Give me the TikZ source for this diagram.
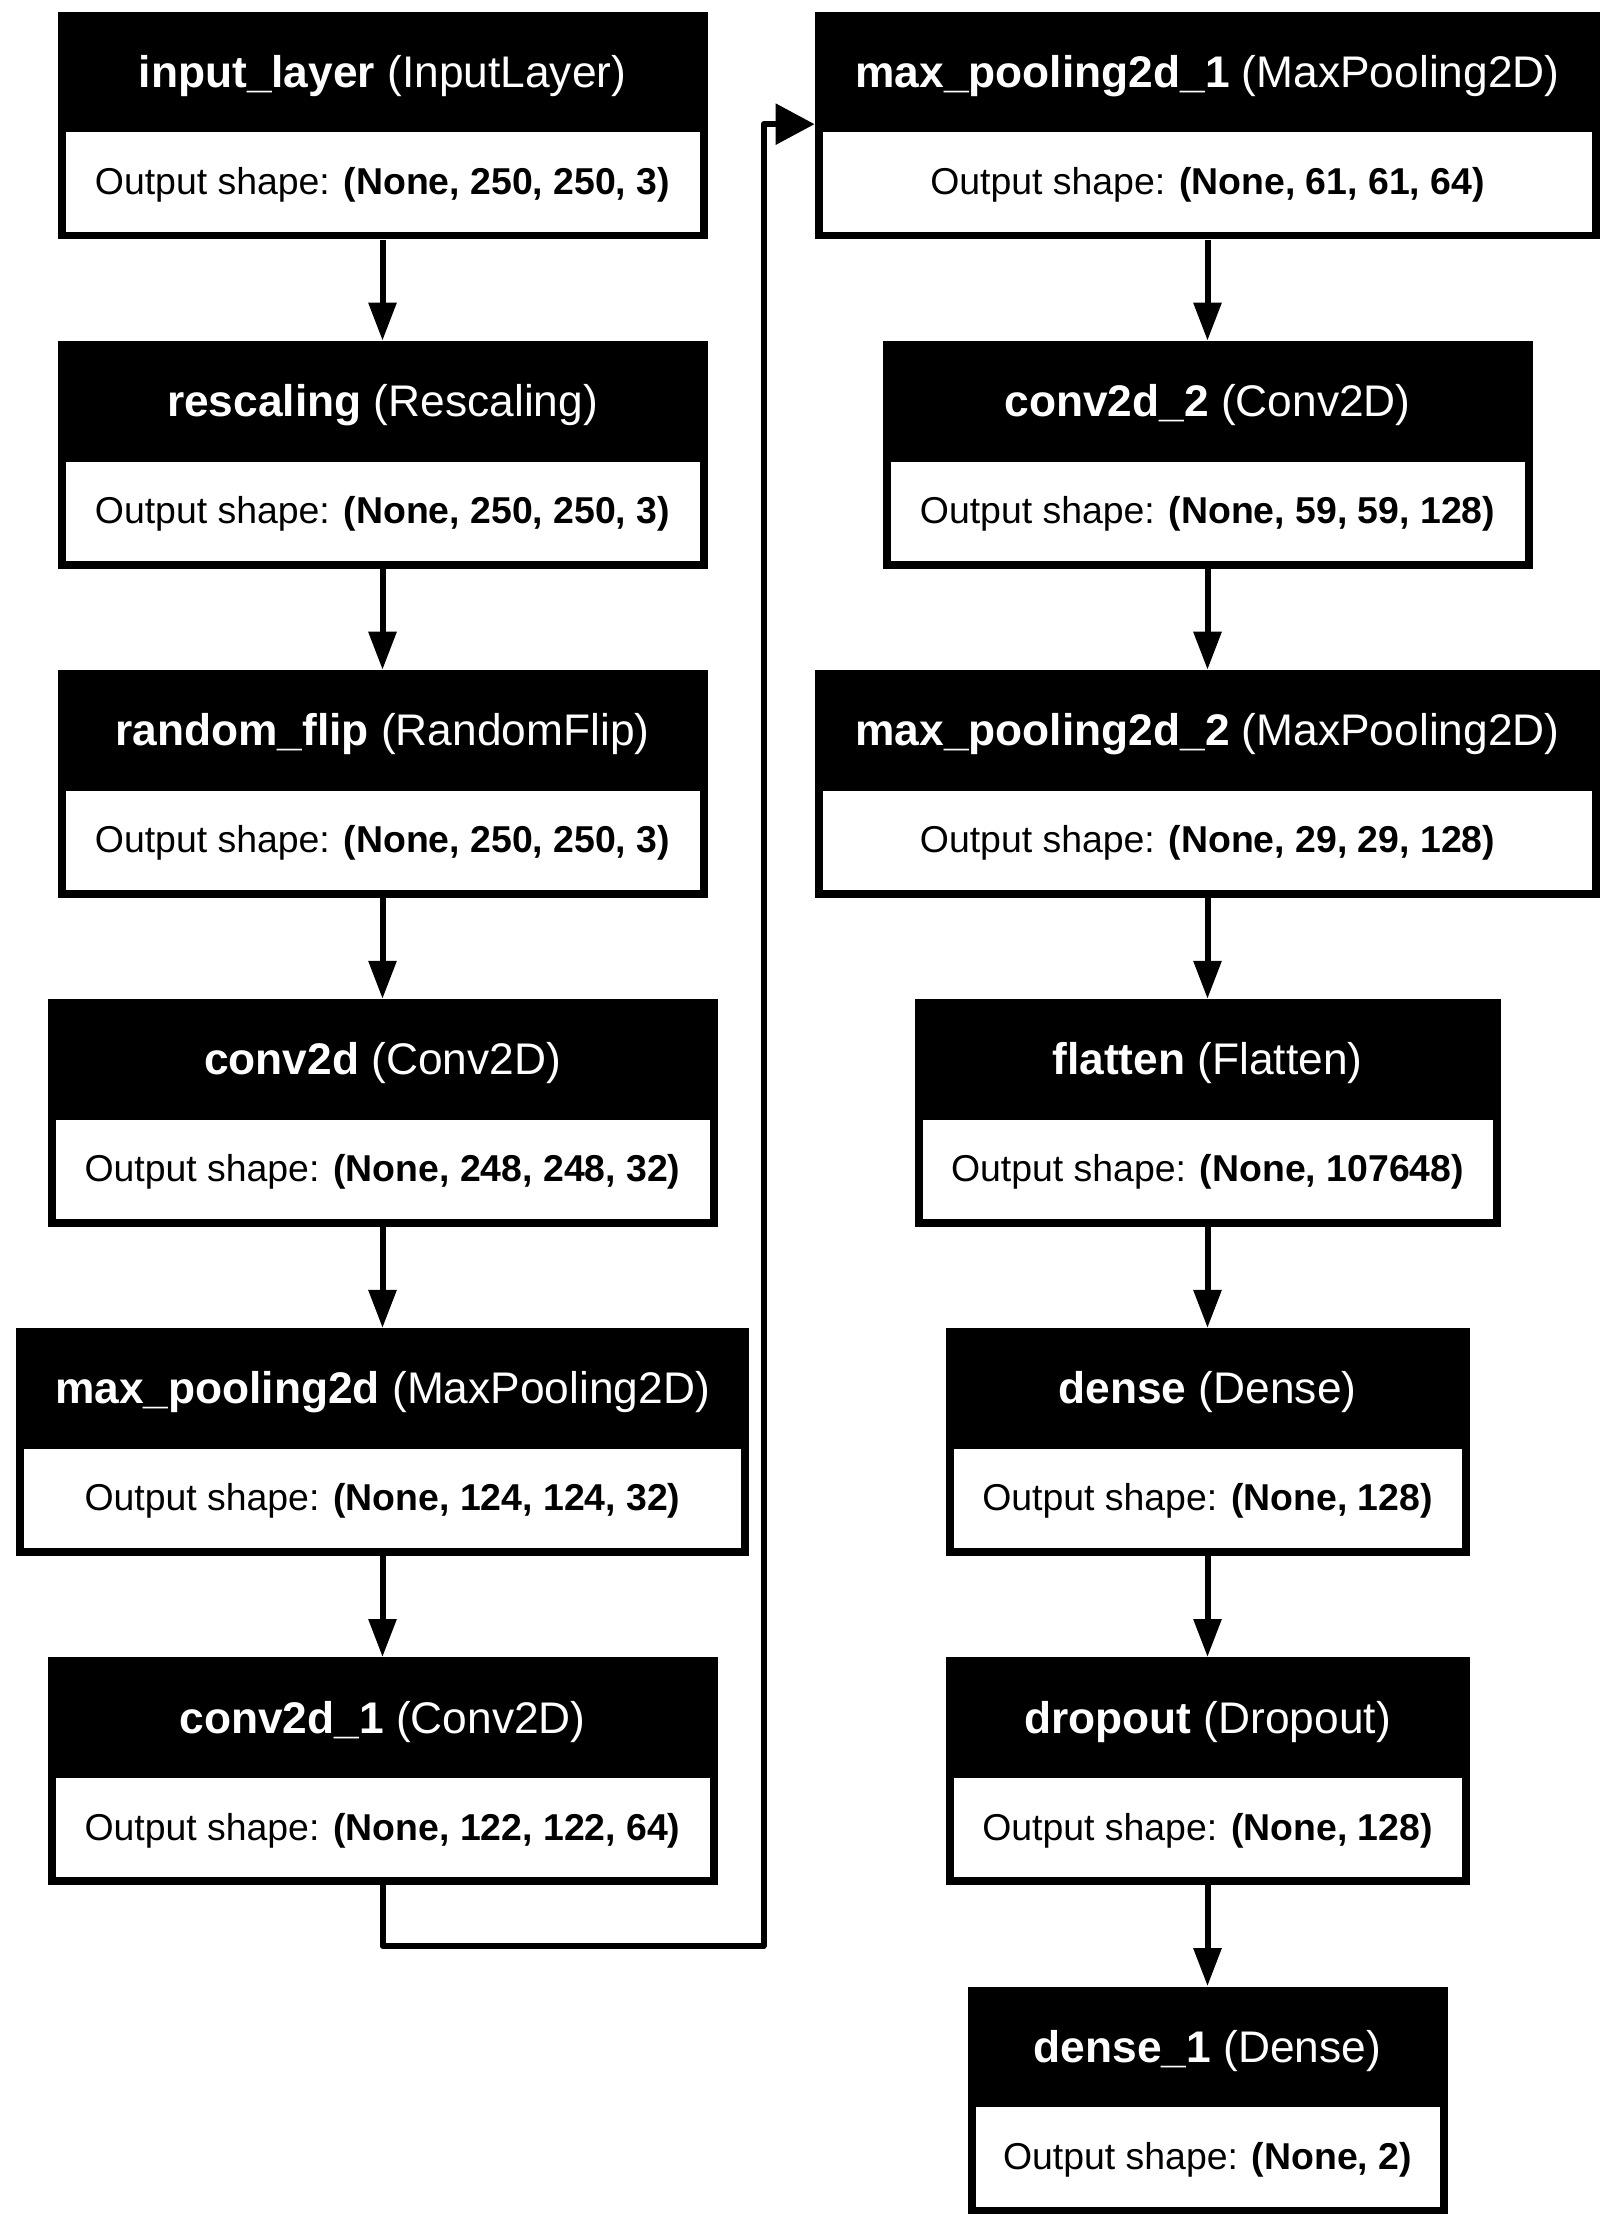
\documentclass[tikz,border=0pt]{standalone}
\usepackage{fontspec}
\setmainfont{Liberation Sans}
\usetikzlibrary{arrows.meta}
\tikzset{
  outerbox/.style={fill=black, inner sep=0pt, minimum height=113.75pt},
  bodybox/.style={fill=white, inner sep=0pt, minimum height=49.75pt},
  headtext/.style={text=white, inner sep=0pt, font=\fontsize{22.15}{26}\selectfont},
  bodytext/.style={text=black, inner sep=0pt, font=\fontsize{18.7}{22}\selectfont},
  flow/.style={line width=3pt, -{Triangle[length=19pt,width=13.5pt]}, line join=round},
  skipflow/.style={line width=3pt, -{Triangle[length=19.5pt,width=20pt]}, line join=round},
}
\newcommand\kerlayer[7]{%
  \node[outerbox, minimum width=#4*0.5pt, anchor=north] (#1) at (#2,#3) {};
  \node[bodybox, minimum width=(#4-16)*0.5pt, anchor=south] (#1-b) at ([yshift=3.75pt]#1.south) {};
  \node[headtext, anchor=base] (#1-h) at ([yshift=-38pt]#1.north) {\textbf{#5} #6};
  \node[bodytext, anchor=base] (#1-t) at ([yshift=-91.5pt]#1.north) {Output shape: \textbf{#7}};
}
\begin{document}
\begin{tikzpicture}[x=0.5pt, y=-0.5pt]
  \fill[white] (0,0) rectangle (1610,2224);
  \useasboundingbox (0,0) rectangle (1610,2224);
  % left column
  \kerlayer{inp}{382.5}{11.5}{650}{input\_layer}{(InputLayer)}{(None, 250, 250, 3)}
  \kerlayer{resc}{382.5}{340.6}{650}{rescaling}{(Rescaling)}{(None, 250, 250, 3)}
  \kerlayer{flip}{382.5}{669.7}{650}{random\_flip}{(RandomFlip)}{(None, 250, 250, 3)}
  \kerlayer{cv0}{382.5}{998.8}{670}{conv2d}{(Conv2D)}{(None, 248, 248, 32)}
  \kerlayer{mp0}{382.5}{1327.9}{733}{max\_pooling2d}{(MaxPooling2D)}{(None, 124, 124, 32)}
  \kerlayer{cv1}{382.5}{1657.0}{670}{conv2d\_1}{(Conv2D)}{(None, 122, 122, 64)}
  % right column
  \kerlayer{mp1}{1207.5}{11.5}{785}{max\_pooling2d\_1}{(MaxPooling2D)}{(None, 61, 61, 64)}
  \kerlayer{cv2}{1207.5}{340.6}{650}{conv2d\_2}{(Conv2D)}{(None, 59, 59, 128)}
  \kerlayer{mp2}{1207.5}{669.7}{785}{max\_pooling2d\_2}{(MaxPooling2D)}{(None, 29, 29, 128)}
  \kerlayer{flat}{1207.5}{998.8}{586}{flatten}{(Flatten)}{(None, 107648)}
  \kerlayer{dense}{1207.5}{1327.9}{524}{dense}{(Dense)}{(None, 128)}
  \kerlayer{drop}{1207.5}{1657.0}{524}{dropout}{(Dropout)}{(None, 128)}
  \kerlayer{dense1}{1207.5}{1986.1}{480}{dense\_1}{(Dense)}{(None, 2)}
  % connectors
  \draw[flow] (inp.south) -- (resc.north);
  \draw[flow] (resc.south) -- (flip.north);
  \draw[flow] (flip.south) -- (cv0.north);
  \draw[flow] (cv0.south) -- (mp0.north);
  \draw[flow] (mp0.south) -- (cv1.north);
  \coordinate (turn) at (763.5,1946);
  \draw[skipflow] (cv1.south) |- (turn) |- ([yshift=0.75pt]mp1.west);
  \draw[flow] (mp1.south) -- (cv2.north);
  \draw[flow] (cv2.south) -- (mp2.north);
  \draw[flow] (mp2.south) -- (flat.north);
  \draw[flow] (flat.south) -- (dense.north);
  \draw[flow] (dense.south) -- (drop.north);
  \draw[flow] (drop.south) -- (dense1.north);
\end{tikzpicture}
\end{document}
